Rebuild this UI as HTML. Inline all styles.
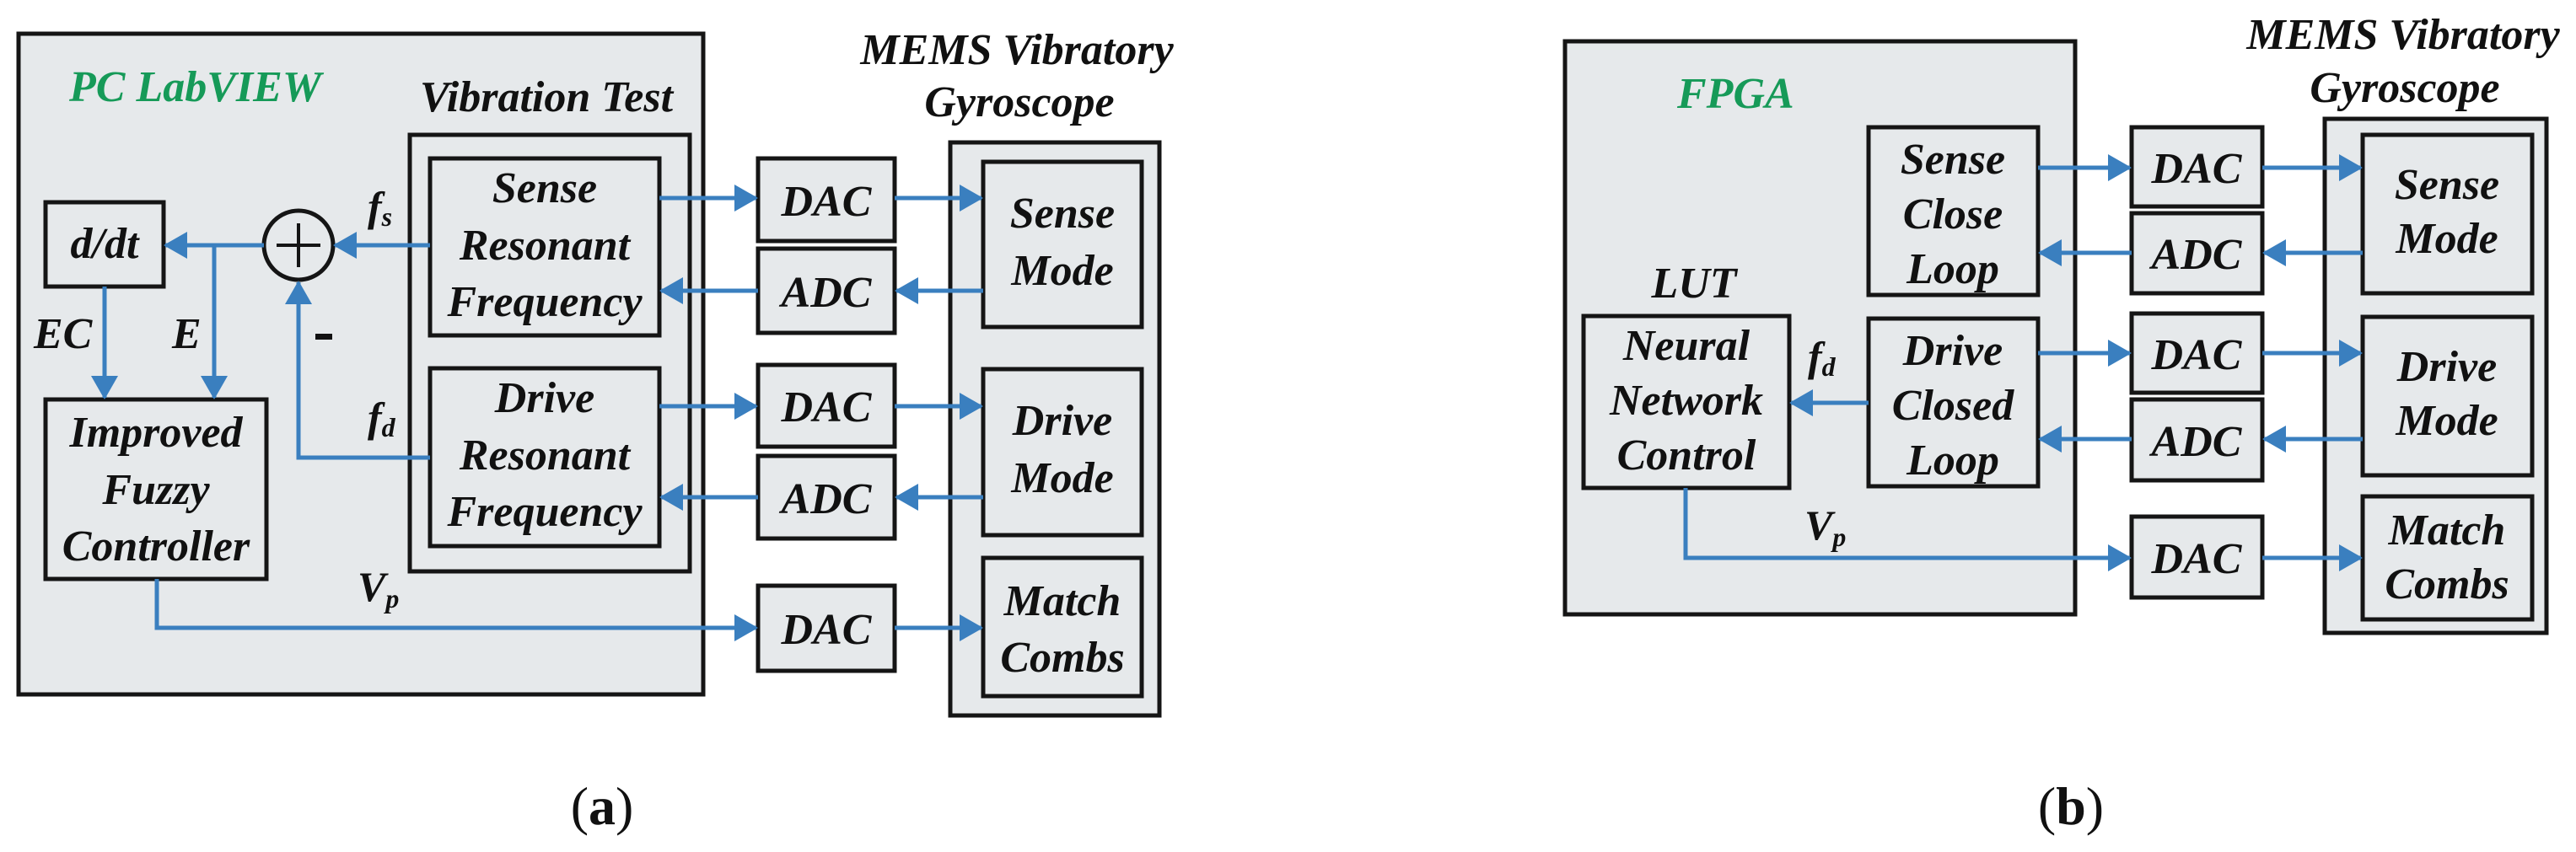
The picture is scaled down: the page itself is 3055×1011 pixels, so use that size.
<!DOCTYPE html>
<html><head><meta charset="utf-8"><style>
html,body{margin:0;padding:0;background:#fff;}
svg{display:block;}
text{font-family:"Liberation Serif","DejaVu Serif",serif;font-weight:bold;font-style:italic;fill:#111;}
.t{font-size:52px;text-anchor:middle;}
.g{fill:#169a58;font-size:52px;}
.b{fill:#e6e9eb;stroke:#151515;stroke-width:5;}
.l{stroke:#3a7fbf;stroke-width:5;fill:none;}
.cap{font-family:"Liberation Serif",serif;font-style:normal;font-weight:normal;font-size:64px;text-anchor:middle;}
</style></head><body>
<svg width="3055" height="1011" viewBox="0 0 3055 1011" xmlns="http://www.w3.org/2000/svg">
<defs>
<marker id="a" markerUnits="userSpaceOnUse" markerWidth="28" markerHeight="32" refX="26" refY="16" orient="auto">
<path d="M0,0 L28,16 L0,32 Z" fill="#3a7fbf"/>
</marker>
</defs>

<!-- ===== boxes (a) ===== -->
<rect class="b" x="22" y="40" width="812" height="784"/>
<rect class="b" x="486" y="160" width="332" height="518"/>
<rect class="b" x="510" y="188" width="272" height="210"/>
<rect class="b" x="510" y="437" width="272" height="211"/>
<rect class="b" x="54" y="240" width="140" height="100"/>
<rect class="b" x="54" y="474" width="262" height="213"/>
<rect class="b" x="899" y="188" width="162" height="98"/>
<rect class="b" x="899" y="295" width="162" height="100"/>
<rect class="b" x="899" y="433" width="162" height="97"/>
<rect class="b" x="899" y="541" width="162" height="98"/>
<rect class="b" x="899" y="695" width="162" height="101"/>
<rect class="b" x="1127" y="169" width="248" height="680"/>
<rect class="b" x="1166" y="192" width="188" height="196"/>
<rect class="b" x="1166" y="438" width="188" height="197"/>
<rect class="b" x="1166" y="662" width="188" height="164"/>

<!-- ===== boxes (b) ===== -->
<rect class="b" x="1856" y="49" width="605" height="680"/>
<rect class="b" x="2216" y="151" width="201" height="199"/>
<rect class="b" x="2216" y="378" width="201" height="199"/>
<rect class="b" x="1878" y="375" width="244" height="204"/>
<rect class="b" x="2528" y="151" width="155" height="94"/>
<rect class="b" x="2528" y="253" width="155" height="95"/>
<rect class="b" x="2528" y="372" width="155" height="94"/>
<rect class="b" x="2528" y="474" width="155" height="96"/>
<rect class="b" x="2528" y="613" width="155" height="96"/>
<rect class="b" x="2757" y="141" width="263" height="610"/>
<rect class="b" x="2802" y="160" width="201" height="188"/>
<rect class="b" x="2802" y="376" width="201" height="188"/>
<rect class="b" x="2802" y="589" width="201" height="146"/>

<!-- ===== connectors (a) ===== -->
<circle cx="354" cy="291" r="41" fill="none" stroke="#151515" stroke-width="5"/>
<line x1="328" y1="291" x2="380" y2="291" stroke="#151515" stroke-width="4"/>
<line x1="354" y1="265" x2="354" y2="317" stroke="#151515" stroke-width="4"/>
<line class="l" x1="510" y1="291" x2="397" y2="291" marker-end="url(#a)"/>
<line class="l" x1="313" y1="291" x2="196" y2="291" marker-end="url(#a)"/>
<line class="l" x1="254" y1="291" x2="254" y2="472" marker-end="url(#a)"/>
<line class="l" x1="124" y1="340" x2="124" y2="472" marker-end="url(#a)"/>
<polyline class="l" points="510,543 354,543 354,335" marker-end="url(#a)"/>
<polyline class="l" points="186,687 186,745 897,745" marker-end="url(#a)"/>
<line class="l" x1="782" y1="235" x2="897" y2="235" marker-end="url(#a)"/>
<line class="l" x1="899" y1="345" x2="784" y2="345" marker-end="url(#a)"/>
<line class="l" x1="782" y1="482" x2="897" y2="482" marker-end="url(#a)"/>
<line class="l" x1="899" y1="590" x2="784" y2="590" marker-end="url(#a)"/>
<line class="l" x1="1061" y1="235" x2="1164" y2="235" marker-end="url(#a)"/>
<line class="l" x1="1166" y1="345" x2="1063" y2="345" marker-end="url(#a)"/>
<line class="l" x1="1061" y1="482" x2="1164" y2="482" marker-end="url(#a)"/>
<line class="l" x1="1166" y1="590" x2="1063" y2="590" marker-end="url(#a)"/>
<line class="l" x1="1061" y1="745" x2="1164" y2="745" marker-end="url(#a)"/>

<!-- ===== connectors (b) ===== -->
<line class="l" x1="2216" y1="478" x2="2124" y2="478" marker-end="url(#a)"/>
<polyline class="l" points="1999,579 1999,662 2526,662" marker-end="url(#a)"/>
<line class="l" x1="2417" y1="199" x2="2526" y2="199" marker-end="url(#a)"/>
<line class="l" x1="2528" y1="300" x2="2419" y2="300" marker-end="url(#a)"/>
<line class="l" x1="2417" y1="419" x2="2526" y2="419" marker-end="url(#a)"/>
<line class="l" x1="2528" y1="521" x2="2419" y2="521" marker-end="url(#a)"/>
<line class="l" x1="2683" y1="199" x2="2800" y2="199" marker-end="url(#a)"/>
<line class="l" x1="2802" y1="300" x2="2685" y2="300" marker-end="url(#a)"/>
<line class="l" x1="2683" y1="419" x2="2800" y2="419" marker-end="url(#a)"/>
<line class="l" x1="2802" y1="521" x2="2685" y2="521" marker-end="url(#a)"/>
<line class="l" x1="2683" y1="662" x2="2800" y2="662" marker-end="url(#a)"/>

<!-- ===== text (a) ===== -->
<text class="g" x="82" y="120">PC LabVIEW</text>
<text class="t" x="648" y="132">Vibration Test</text>
<text class="t" x="646" y="240">Sense</text>
<text class="t" x="646" y="308">Resonant</text>
<text class="t" x="646" y="375">Frequency</text>
<text class="t" x="646" y="489">Drive</text>
<text class="t" x="646" y="557">Resonant</text>
<text class="t" x="646" y="624">Frequency</text>
<text class="t" x="124" y="306">d/dt</text>
<text class="t" x="185" y="530">Improved</text>
<text class="t" x="185" y="598">Fuzzy</text>
<text class="t" x="185" y="665">Controller</text>
<text x="436" y="262" style="font-size:50px">f<tspan style="font-size:32px" dy="6">s</tspan></text>
<text x="436" y="512" style="font-size:50px">f<tspan style="font-size:32px" dy="6">d</tspan></text>
<text x="424" y="713" style="font-size:50px">V<tspan style="font-size:32px" dy="8">p</tspan></text>
<rect x="374" y="396" width="20" height="7" fill="#111"/>
<text x="40" y="413" style="font-size:52px">EC</text>
<text x="204" y="413" style="font-size:52px">E</text>
<text class="t" x="980" y="256">DAC</text>
<text class="t" x="980" y="364">ADC</text>
<text class="t" x="980" y="500">DAC</text>
<text class="t" x="980" y="609">ADC</text>
<text class="t" x="980" y="764">DAC</text>
<text class="t" x="1206" y="76">MEMS Vibratory</text>
<text class="t" x="1209" y="138">Gyroscope</text>
<text class="t" x="1260" y="270">Sense</text>
<text class="t" x="1260" y="338">Mode</text>
<text class="t" x="1260" y="516">Drive</text>
<text class="t" x="1260" y="584">Mode</text>
<text class="t" x="1260" y="730">Match</text>
<text class="t" x="1260" y="797">Combs</text>

<!-- ===== text (b) ===== -->
<text class="g" x="1989" y="128">FPGA</text>
<text class="t" x="2316" y="206">Sense</text>
<text class="t" x="2316" y="271">Close</text>
<text class="t" x="2316" y="336">Loop</text>
<text class="t" x="2316" y="433">Drive</text>
<text class="t" x="2316" y="498">Closed</text>
<text class="t" x="2316" y="563">Loop</text>
<text class="t" x="2009" y="353">LUT</text>
<text class="t" x="2000" y="427">Neural</text>
<text class="t" x="2000" y="492">Network</text>
<text class="t" x="2000" y="557">Control</text>
<text x="2144" y="440" style="font-size:50px">f<tspan style="font-size:32px" dy="6">d</tspan></text>
<text x="2140" y="640" style="font-size:50px">V<tspan style="font-size:32px" dy="8">p</tspan></text>
<text class="t" x="2605" y="217">DAC</text>
<text class="t" x="2605" y="319">ADC</text>
<text class="t" x="2605" y="438">DAC</text>
<text class="t" x="2605" y="541">ADC</text>
<text class="t" x="2605" y="680">DAC</text>
<text class="t" x="2850" y="58">MEMS Vibratory</text>
<text class="t" x="2852" y="121">Gyroscope</text>
<text class="t" x="2902" y="236">Sense</text>
<text class="t" x="2902" y="300">Mode</text>
<text class="t" x="2902" y="452">Drive</text>
<text class="t" x="2902" y="516">Mode</text>
<text class="t" x="2902" y="646">Match</text>
<text class="t" x="2902" y="710">Combs</text>

<text class="cap" x="714" y="978">(<tspan font-weight="bold">a</tspan>)</text>
<text class="cap" x="2456" y="978">(<tspan font-weight="bold">b</tspan>)</text>
</svg>
</body></html>
